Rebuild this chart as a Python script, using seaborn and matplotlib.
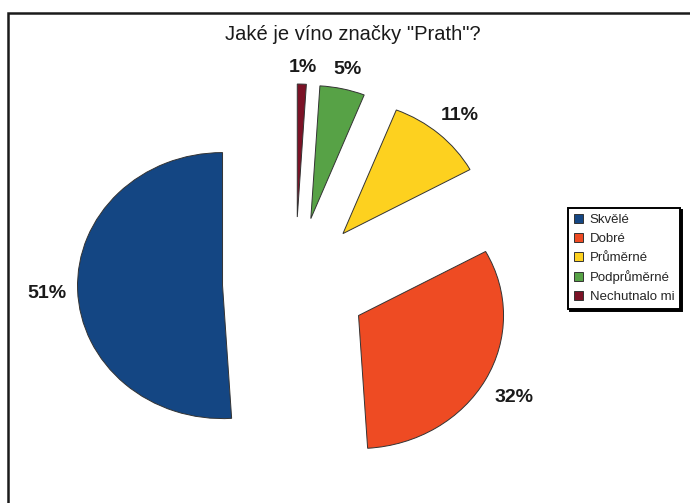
import numpy as np
import matplotlib
matplotlib.use("Agg")
import matplotlib.pyplot as plt
import seaborn as sns
from matplotlib.patches import Rectangle

categories = ["Skvělé", "Dobré", "Průměrné", "Podprůměrné", "Nechutnalo mi"]
values = [51, 32, 11, 5, 1]
pct_labels = ["51%", "32%", "11%", "5%", "1%"]
colors = ["#144683", "#EE4B23", "#FDD11F", "#57A246", "#7B1226"]
title = 'Jaké je víno značky "Prath"?'

sns.set_theme(style="white")
plt.rcParams["font.family"] = ["Liberation Sans", "DejaVu Sans"]

W, H = 690, 503
fig = plt.figure(figsize=(W / 100, H / 100), dpi=100)
fig.patch.set_facecolor("white")
ax = fig.add_axes([0, 0, 1, 1])

# pie geometry in pixels (center, horizontal/vertical radius)
cx, cy, rx, ry = 295, 283.5, 145, 133

wedges, _ = ax.pie(values, colors=colors, startangle=90, counterclock=True,
                   explode=[0.5] * len(values),
                   wedgeprops=dict(edgecolor="#333333", linewidth=0.7))
ax.set_aspect("auto")
ax.set_xlim(-cx / rx, (W - cx) / rx)
ax.set_ylim(-(H - cy) / ry, cy / ry)
ax.axis("off")

# percentage labels placed just outside each wedge's arc
texts = []
for w, lab in zip(wedges, pct_labels):
    t = ax.text(0, 0, lab, ha="center", va="center", fontsize=14,
                fontweight="bold", color="#1a1a1a")
    texts.append(t)
fig.canvas.draw()
r = fig.canvas.get_renderer()
gap = 11
for w, t in zip(wedges, texts):
    mid = np.deg2rad((w.theta1 + w.theta2) / 2)
    c = np.array(w.center)
    arc = c + w.r * np.array([np.cos(mid), np.sin(mid)])
    c_d = ax.transData.transform(c)
    a_d = ax.transData.transform(arc)
    u = (a_d - c_d) / np.linalg.norm(a_d - c_d)
    bb = t.get_window_extent(r)
    off = gap + abs(u[0]) * bb.width / 2 + abs(u[1]) * bb.height / 2
    p_d = a_d + u * off
    p_d[1] -= 3
    t.set_position(ax.transData.inverted().transform(p_d))

leg = ax.legend(wedges, categories, loc="upper left",
                bbox_to_anchor=(568 / W, 1 - 208 / H),
                bbox_transform=fig.transFigure, frameon=True, fancybox=False,
                edgecolor="black", fontsize=9.5, handlelength=0.7,
                handleheight=0.7, handletextpad=0.5, labelspacing=0.5,
                borderpad=0.45, borderaxespad=0,
                shadow={"ox": 1.3, "oy": -1.3, "color": "black", "alpha": 1})
leg.get_frame().set_linewidth(1.4)

fig.text(352.5 / W, 1 - 35 / H, title, ha="center", va="center",
         fontsize=14.5, color="#1a1a1a")

frame = Rectangle((8 / W, -0.5), 2, 1 - 13 / H + 0.5, transform=fig.transFigure,
                  fill=False, lw=1.8, ec="#1a1a1a")
fig.add_artist(frame)

fig.savefig("out.png", dpi=100, facecolor="white")
